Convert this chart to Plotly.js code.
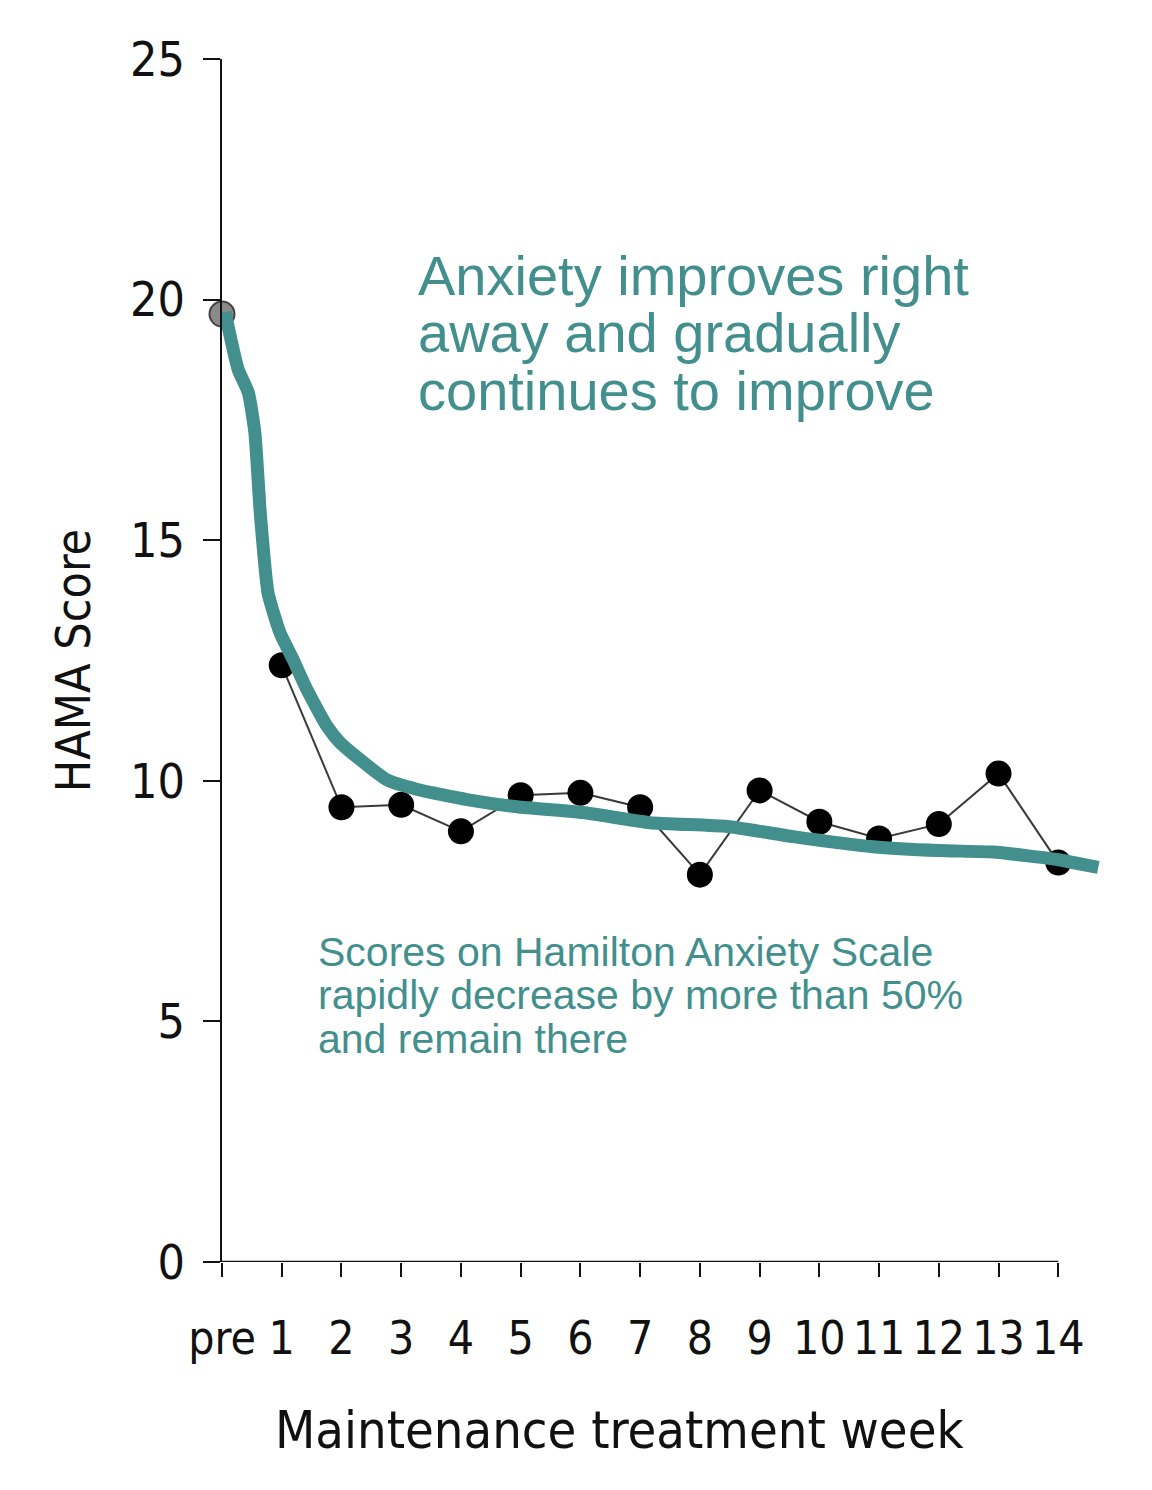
<!DOCTYPE html>
<html>
<head>
<meta charset="utf-8">
<script src="https://cdn.plot.ly/plotly-3.0.1.min.js"></script>
<style>
html, body { margin: 0; padding: 0; background: #fff; }
#chart { width: 1152px; height: 1490px; }
</style>
</head>
<body>
<div id="chart"></div>
<script>
// weeks on the x axis
const weekLabels = ["pre", "1", "2", "3", "4", "5", "6", "7", "8", "9", "10", "11", "12", "13", "14"];
const weekIndex = [0, 1, 2, 3, 4, 5, 6, 7, 8, 9, 10, 11, 12, 13, 14];

// measured HAMA scores (pre is a lone grey dot, weeks 1-14 are joined)
const hamaScores = [19.7, 12.4, 9.45, 9.5, 8.95, 9.7, 9.75, 9.45, 8.05, 9.8, 9.15, 8.8, 9.1, 10.15, 8.3];

// hand-drawn teal trend
const trendWeeks = [0.05, 0.27, 0.44, 0.55, 0.64, 0.77, 0.97, 1.19, 1.42, 1.76, 1.98, 2.76, 3.27, 4.1, 4.94, 6.05, 7.17, 8.46, 9.56, 10.9, 12.0, 12.91, 13.5, 14.0, 14.67];
const trendScores = [19.74, 18.55, 18.07, 17.24, 15.58, 13.91, 13.08, 12.52, 11.9, 11.13, 10.79, 10.02, 9.82, 9.61, 9.46, 9.34, 9.13, 9.05, 8.84, 8.63, 8.55, 8.52, 8.44, 8.36, 8.2];

const yTicks = [0, 5, 10, 15, 20, 25];

const headlineLines = ["Anxiety improves right", "away and gradually", "continues to improve"];
const noteLines = ["Scores on Hamilton Anxiety Scale", "rapidly decrease by more than 50%", "and remain there"];
const xTitle = "Maintenance treatment week";
const yTitle = "HAMA Score";

const teal = "#428f8d";
const axisInk = "#111111";
const tickFont = "Liberation Sans Narrow, DejaVu Sans Condensed, Lato, sans-serif";
const noteFont = "Liberation Sans, Arial, sans-serif";

let preTrace = {
    x: weekIndex.slice(0, 1),
    y: hamaScores.slice(0, 1),
    mode: "markers",
    type: "scatter",
    cliponaxis: false,
    marker: { color: "#8a8a8a", size: 25, line: { color: "#444", width: 2 } },
    hoverinfo: "skip"
};

let scoreTrace = {
    x: weekIndex.slice(1),
    y: hamaScores.slice(1),
    mode: "lines+markers",
    type: "scatter",
    cliponaxis: false,
    line: { color: "#3a3a3a", width: 2 },
    marker: { color: "#000000", size: 26 },
    hoverinfo: "skip"
};

let trendTrace = {
    x: trendWeeks,
    y: trendScores,
    mode: "lines",
    type: "scatter",
    cliponaxis: false,
    line: { color: teal, width: 13, shape: "spline", smoothing: 0.5 },
    hoverinfo: "skip"
};

// one annotation per line so the line spacing can follow the picture
let annotations = [];
headlineLines.forEach((t, i) => {
    annotations.push({
        text: t, xref: "x", yref: "y", x: 3.25, y: 20.5 - i * 1.19,
        xanchor: "left", yanchor: "middle", showarrow: false,
        font: { family: noteFont, size: 56, color: teal }
    });
});
noteLines.forEach((t, i) => {
    annotations.push({
        text: t, xref: "x", yref: "y", x: 1.58, y: 6.45 - i * 0.91,
        xanchor: "left", yanchor: "middle", showarrow: false,
        font: { family: noteFont, size: 41, color: teal }
    });
});
// x title sits a little left of the plot centre in the picture
annotations.push({
    text: xTitle, xref: "x", yref: "paper", x: 6.65, y: -0.14,
    xanchor: "center", yanchor: "middle", showarrow: false,
    font: { family: tickFont, size: 52, color: "#111" }
});

let layout = {
    width: 1152,
    height: 1490,
    margin: { l: 222, r: 34, t: 59, b: 228 },
    paper_bgcolor: "#ffffff",
    plot_bgcolor: "#ffffff",
    showlegend: false,
    xaxis: {
        range: [0, 15],
        tickvals: weekIndex,
        ticktext: weekLabels,
        tickangle: 0,
        ticks: "outside",
        ticklen: 14,
        tickwidth: 2,
        tickcolor: axisInk,
        showline: false,
        showgrid: false,
        zeroline: false,
        fixedrange: true,
        tickfont: { family: tickFont, size: 46, color: "#111" },
        ticklabelstandoff: 22
    },
    yaxis: {
        range: [0, 25],
        tickvals: yTicks,
        ticks: "outside",
        ticklen: 17,
        tickwidth: 2,
        tickcolor: axisInk,
        showline: true,
        linecolor: axisInk,
        linewidth: 2.5,
        showgrid: false,
        zeroline: false,
        fixedrange: true,
        tickfont: { family: tickFont, size: 48, color: "#111" },
        ticklabelstandoff: 8,
        title: { text: yTitle, standoff: 24, font: { family: tickFont, size: 48, color: "#111" } }
    },
    shapes: [{
        // x axis line stops at the last week, as in the picture
        type: "line", xref: "x", yref: "y",
        x0: weekIndex[0], x1: weekIndex[weekIndex.length - 1], y0: 0, y1: 0,
        line: { color: axisInk, width: 2.5 }
    }],
    annotations: annotations
};

Plotly.newPlot("chart", [preTrace, scoreTrace, trendTrace], layout, { displayModeBar: false, staticPlot: true });
</script>
</body>
</html>
